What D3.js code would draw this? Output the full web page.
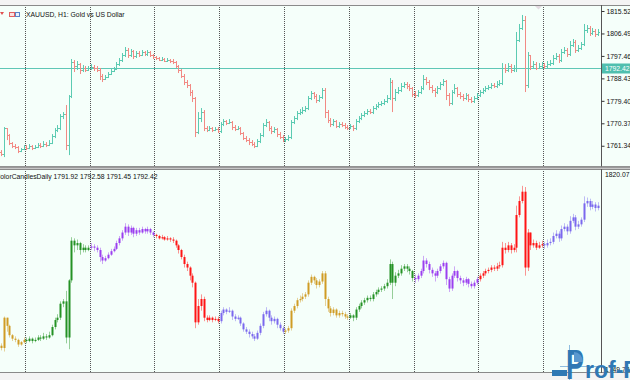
<!DOCTYPE html>
<html>
<head>
<meta charset="utf-8">
<script src="https://cdnjs.cloudflare.com/ajax/libs/d3/7.8.5/d3.min.js"></script>
<style>
body { margin:0; background:#f2f2f2; }
svg { display:block; font-family:"Liberation Sans", Arial, sans-serif; }
</style>
</head>
<body>
<div id="chart"></div>
<script>
var symbolTitle = "XAUUSD, H1:  Gold vs US Dollar";
var indicatorTitle = "ColorCandlesDaily 1791.92 1792.58 1791.45 1792.42";
var bidPrice = 1792.42;
var firstOpen = 1758.80;
var barsPerDay = [9, 23, 23, 23, 23, 23, 23, 23, 23, 20];
var dayColors = ["#d09c24", "#249224", "#9b3ff0", "#ff1414", "#7b68ee", "#d09c24", "#249224", "#9b3ff0", "#ff1414", "#7b68ee"];
var priceTicks = [1815.52, 1806.49, 1797.46, 1788.43, 1779.40, 1770.37, 1761.34];
var indicatorTicks = [1820.07, 1749.73];

// hourly closes, one line per day
var closes = [
 1758.00, 1768.46, 1765.64, 1762.42, 1761.22, 1760.81, 1759.20, 1760.01, 1760.81,
 1760.41, 1761.22, 1760.41, 1760.81, 1761.62, 1761.22, 1762.02, 1761.62, 1762.42, 1765.24, 1767.65, 1768.46, 1773.28, 1774.09, 1761.62, 1781.33, 1795.01, 1793.40, 1794.20, 1791.79, 1792.59, 1791.79, 1792.59,
 1793.00, 1792.59, 1791.79, 1789.37, 1788.17, 1788.97, 1790.18, 1791.39, 1792.19, 1794.20, 1795.81, 1797.82, 1799.84, 1797.82, 1799.43, 1797.42, 1798.63, 1797.82, 1799.03, 1798.23, 1799.03, 1797.82, 1797.02,
 1796.62, 1795.81, 1796.21, 1795.41, 1795.81, 1795.41, 1795.01, 1793.40, 1791.79, 1789.37, 1786.96, 1785.75, 1782.94, 1780.52, 1766.85, 1772.48, 1774.89, 1768.46, 1767.65, 1768.46, 1767.65, 1768.05, 1767.25,
 1770.07, 1771.27, 1770.47, 1770.87, 1768.86, 1768.05, 1768.46, 1766.45, 1764.43, 1763.63, 1762.82, 1762.02, 1761.22, 1763.23, 1765.64, 1769.66, 1770.87, 1768.46, 1767.25, 1768.05, 1766.04, 1764.84, 1763.63,
 1764.03, 1764.84, 1770.87, 1772.48, 1774.49, 1774.89, 1775.70, 1776.50, 1780.52, 1782.54, 1781.33, 1779.72, 1780.93, 1783.74, 1774.89, 1771.67, 1770.07, 1771.27, 1769.26, 1770.07, 1769.66, 1768.86, 1768.46,
 1769.26, 1768.46, 1771.27, 1772.48, 1773.69, 1774.49, 1775.30, 1774.89, 1776.50, 1777.31, 1778.11, 1778.51, 1779.32, 1780.52, 1786.96, 1780.52, 1782.94, 1783.74, 1785.35, 1786.16, 1785.35, 1784.55, 1782.13,
 1781.73, 1782.94, 1784.55, 1788.17, 1786.96, 1784.95, 1783.74, 1782.94, 1784.55, 1786.16, 1787.36, 1781.73, 1778.51, 1782.94, 1784.55, 1782.13, 1781.33, 1780.52, 1781.73, 1780.12, 1779.32, 1780.52, 1781.73,
 1782.94, 1783.74, 1784.55, 1784.95, 1785.75, 1785.35, 1786.16, 1786.56, 1792.59, 1791.79, 1793.40, 1791.79, 1792.59, 1803.86, 1808.69, 1811.90, 1785.75, 1797.82, 1793.40, 1794.20, 1792.59, 1793.40, 1793.80,
 1793.40, 1794.20, 1794.60, 1796.62, 1797.42, 1795.81, 1799.03, 1799.84, 1798.23, 1801.85, 1803.05, 1799.84, 1800.64, 1802.25, 1807.88, 1808.69, 1806.67, 1807.48, 1806.27, 1807.08
];
var highs = [
 1759.61, 1768.86, 1768.46, 1766.04, 1762.82, 1762.02, 1761.22, 1760.41, 1761.62,
 1761.62, 1762.02, 1761.62, 1761.62, 1762.42, 1762.42, 1763.23, 1762.82, 1763.63, 1766.04, 1768.46, 1769.66, 1774.09, 1774.89, 1777.71, 1781.73, 1796.21, 1795.81, 1795.41, 1794.60, 1793.80, 1793.40, 1793.40,
 1794.20, 1793.80, 1793.40, 1792.59, 1790.18, 1789.78, 1790.98, 1792.19, 1793.00, 1795.01, 1796.62, 1798.63, 1801.04, 1800.64, 1800.24, 1799.84, 1799.43, 1799.43, 1799.84, 1799.43, 1799.84, 1799.43, 1798.23,
 1797.42, 1797.02, 1797.02, 1796.62, 1796.62, 1796.21, 1796.21, 1795.41, 1793.80, 1792.19, 1790.18, 1787.77, 1786.16, 1783.74, 1780.93, 1774.89, 1776.50, 1775.70, 1769.26, 1769.26, 1768.86, 1768.86, 1768.86,
 1770.87, 1772.08, 1771.67, 1772.08, 1771.27, 1769.66, 1769.26, 1768.86, 1766.85, 1765.24, 1764.43, 1763.63, 1762.82, 1764.03, 1766.45, 1770.47, 1772.08, 1771.27, 1769.26, 1768.86, 1768.46, 1766.85, 1765.64,
 1764.84, 1765.64, 1771.67, 1773.28, 1775.30, 1776.10, 1776.90, 1777.31, 1781.33, 1783.34, 1782.94, 1782.13, 1781.73, 1784.55, 1784.55, 1775.70, 1772.48, 1772.08, 1771.67, 1770.87, 1770.87, 1770.47, 1769.66,
 1770.07, 1769.66, 1772.08, 1773.28, 1774.49, 1775.30, 1776.10, 1776.10, 1777.31, 1778.11, 1778.92, 1779.32, 1780.12, 1781.73, 1788.57, 1787.77, 1784.14, 1784.95, 1786.56, 1786.96, 1786.96, 1786.16, 1784.95,
 1783.34, 1783.74, 1785.35, 1789.78, 1788.97, 1787.77, 1785.75, 1784.55, 1785.35, 1786.96, 1788.17, 1787.77, 1782.54, 1783.74, 1786.16, 1784.95, 1782.94, 1782.13, 1782.54, 1782.13, 1780.93, 1781.33, 1782.54,
 1783.74, 1784.55, 1785.35, 1785.75, 1786.56, 1786.56, 1787.36, 1787.77, 1794.60, 1794.20, 1794.60, 1794.20, 1793.80, 1807.08, 1810.30, 1813.92, 1813.51, 1799.03, 1797.82, 1795.41, 1795.01, 1794.60, 1795.01,
 1794.60, 1795.41, 1795.81, 1797.82, 1798.63, 1798.23, 1800.24, 1801.04, 1800.64, 1803.46, 1804.26, 1803.86, 1801.85, 1803.05, 1810.30, 1809.89, 1809.49, 1808.69, 1808.28, 1808.28
];
var lows = [
 1757.19, 1756.79, 1763.63, 1761.62, 1760.41, 1760.01, 1758.40, 1758.80, 1759.61,
 1759.61, 1760.01, 1759.61, 1760.01, 1760.41, 1760.41, 1760.81, 1760.81, 1761.22, 1762.02, 1764.43, 1766.85, 1767.65, 1772.08, 1759.61, 1757.59, 1780.52, 1790.98, 1791.79, 1790.18, 1790.98, 1790.98, 1791.39,
 1791.79, 1791.39, 1790.98, 1787.77, 1786.96, 1787.77, 1788.57, 1789.78, 1790.98, 1791.79, 1793.40, 1795.01, 1797.02, 1796.62, 1797.02, 1796.21, 1796.62, 1797.02, 1797.42, 1797.42, 1797.42, 1797.02, 1796.21,
 1795.81, 1795.41, 1795.41, 1795.01, 1795.01, 1794.60, 1794.20, 1792.59, 1790.58, 1788.57, 1785.75, 1784.55, 1781.33, 1778.92, 1764.84, 1766.04, 1770.87, 1767.25, 1766.85, 1767.25, 1766.85, 1767.25, 1766.45,
 1766.45, 1769.26, 1769.66, 1770.07, 1767.65, 1767.25, 1767.65, 1765.64, 1763.63, 1762.82, 1761.62, 1761.22, 1760.41, 1760.81, 1762.42, 1764.84, 1768.86, 1767.25, 1766.04, 1766.45, 1764.84, 1764.03, 1762.82,
 1762.82, 1763.23, 1764.03, 1770.07, 1771.67, 1773.69, 1774.09, 1774.89, 1775.70, 1779.72, 1780.12, 1778.51, 1778.92, 1780.12, 1772.48, 1770.47, 1768.86, 1769.26, 1768.46, 1768.46, 1768.86, 1768.05, 1767.65,
 1768.05, 1767.25, 1767.65, 1770.47, 1771.67, 1772.88, 1773.69, 1774.09, 1774.09, 1775.70, 1776.50, 1777.31, 1777.71, 1778.51, 1779.72, 1774.89, 1779.32, 1782.13, 1782.94, 1784.55, 1784.14, 1783.34, 1780.93,
 1780.52, 1780.93, 1782.13, 1783.74, 1785.75, 1783.74, 1782.54, 1780.93, 1782.13, 1783.74, 1785.35, 1779.72, 1777.31, 1777.71, 1782.13, 1780.93, 1780.12, 1779.32, 1779.72, 1778.92, 1778.51, 1778.51, 1779.72,
 1780.93, 1782.13, 1782.94, 1783.74, 1784.14, 1784.55, 1784.55, 1785.35, 1785.75, 1790.58, 1790.98, 1790.58, 1790.98, 1790.98, 1803.05, 1807.88, 1782.94, 1784.55, 1791.79, 1792.59, 1791.79, 1792.19, 1792.59,
 1792.19, 1792.59, 1793.40, 1793.80, 1795.81, 1794.60, 1795.01, 1798.23, 1797.02, 1797.42, 1801.04, 1798.63, 1799.03, 1799.84, 1801.44, 1806.67, 1805.47, 1805.87, 1805.07, 1805.47
];

var width = 630, height = 380;
var plotRight = 601;
var topPane = {top:5, bottom:167};
var subPane = {top:169, bottom:373};
var upColor = "#5ccbb2", downColor = "#f28a84";

// open of each hour = previous close
var opens = closes.map(function(c, i){ return i ? closes[i-1] : firstOpen; });
var dayOf = [];
barsPerDay.forEach(function(n, d){ for (var k = 0; k < n; k++) dayOf.push(d); });
var dayStarts = [];
barsPerDay.reduce(function(acc, n){ dayStarts.push(acc); return acc + n; }, 0);

var xScale = d3.scaleLinear().domain([0, closes.length - 1]).range([1, 598]);
var yTop = d3.scaleLinear().domain([1752.8, 1817.93]).range([topPane.bottom, topPane.top]);
var ySub = d3.scaleLinear().domain([1749.73, 1820.07]).range([372, 168]);

var svg = d3.select("#chart").append("svg").attr("width", width).attr("height", height);

svg.append("rect").attr("width", width).attr("height", height).attr("fill", "#f4f4f4");
[topPane, subPane].forEach(function(p){
	svg.append("rect").attr("x", 0).attr("y", p.top).attr("width", width).attr("height", p.bottom - p.top)
		.attr("fill", "#f5fffa");
});

svg.append("defs").append("clipPath").attr("id", "plotclip")
	.append("rect").attr("x", 0).attr("y", 0).attr("width", plotRight).attr("height", height);

// period separators (start of each day)
var sep = svg.append("g");
dayStarts.slice(1).forEach(function(s){
	var x = Math.round(xScale(s - 0.5)) + 0.5;
	[topPane, subPane].forEach(function(p){
		sep.append("line").attr("x1", x).attr("x2", x).attr("y1", p.top).attr("y2", p.bottom)
			.attr("stroke", "#555").attr("stroke-dasharray", "1,1");
	});
});

// bid line
var bidY = Math.round(yTop(bidPrice)) + 0.5;
svg.append("line").attr("x1", 0).attr("x2", plotRight).attr("y1", bidY).attr("y2", bidY)
	.attr("stroke", "#5fc7b6").attr("stroke-width", 1);

// top pane: OHLC bars
var barLayer = svg.append("g").attr("clip-path", "url(#plotclip)");
closes.forEach(function(c, i){
	var x = Math.round(xScale(i));
	var col = c >= opens[i] ? upColor : downColor;
	var yh = yTop(highs[i]), yl = yTop(lows[i]);
	barLayer.append("rect").attr("x", x).attr("y", yh).attr("width", 1).attr("height", Math.max(1, yl - yh))
		.attr("fill", col);
	barLayer.append("rect").attr("x", x - 1).attr("y", Math.round(yTop(opens[i]))).attr("width", 1).attr("height", 1)
		.attr("fill", col);
	barLayer.append("rect").attr("x", x + 1).attr("y", Math.round(yTop(c))).attr("width", 1).attr("height", 1)
		.attr("fill", col);
});

// bottom pane: candles coloured by day
var candleLayer = svg.append("g").attr("clip-path", "url(#plotclip)");
closes.forEach(function(c, i){
	var x = Math.round(xScale(i));
	var col = dayColors[dayOf[i]];
	var yh = ySub(highs[i]), yl = ySub(lows[i]);
	var yo = ySub(opens[i]), yc = ySub(c);
	candleLayer.append("rect").attr("x", x).attr("y", yh).attr("width", 1).attr("height", yl - yh)
		.attr("fill", col).attr("opacity", 0.45);
	candleLayer.append("rect").attr("x", x - 0.5).attr("y", Math.min(yo, yc)).attr("width", 2)
		.attr("height", Math.max(1, Math.abs(yo - yc))).attr("fill", col);
});

// pane borders
[topPane, subPane].forEach(function(p){
	svg.append("line").attr("x1", 0).attr("x2", width).attr("y1", p.top + 0.5).attr("y2", p.top + 0.5).attr("stroke", "#8a8a8a");
	svg.append("line").attr("x1", 0).attr("x2", width).attr("y1", p.bottom - 0.5).attr("y2", p.bottom - 0.5).attr("stroke", "#8a8a8a");
	svg.append("line").attr("x1", plotRight + 0.5).attr("x2", plotRight + 0.5).attr("y1", p.top).attr("y2", p.bottom).attr("stroke", "#555");
});
svg.append("rect").attr("x", 0).attr("y", topPane.bottom - 0.5).attr("width", width).attr("height", 2).attr("fill", "#9a9a9a");

// price axis
var axisTop = d3.axisRight(yTop).tickValues(priceTicks).tickSize(3).tickPadding(2)
	.tickFormat(d3.format(".2f"));
var gTop = svg.append("g").attr("transform", "translate(" + (plotRight + 0.5) + ",0)").call(axisTop);
gTop.select(".domain").remove();
gTop.selectAll("text").attr("font-size", "6.8px").attr("fill", "#111").attr("font-family", "Liberation Sans, Arial, sans-serif");
gTop.selectAll("line").attr("stroke", "#333");

var gSub = svg.append("g").attr("font-size", "6.8px").attr("fill", "#111");
gSub.append("text").attr("x", 605).attr("y", 177).text(indicatorTicks[0].toFixed(2));
gSub.append("text").attr("x", 605).attr("y", 372).text(indicatorTicks[1].toFixed(2));

// bid label
svg.append("rect").attr("x", plotRight + 1).attr("y", bidY - 5).attr("width", width - plotRight).attr("height", 10)
	.attr("fill", "#4fbfae");
svg.append("text").attr("x", 605).attr("y", bidY + 2.5).attr("font-size", "6.8px").attr("fill", "#fff")
	.text(bidPrice.toFixed(2));

// shift marker
svg.append("path").attr("d", "M535,6 L542,6 L538.5,9.5 Z").attr("fill", "#e4dbe2");

// titles
svg.append("path").attr("d", "M0,12 L4,12 L2,15 Z").attr("fill", "#e05050");
svg.append("rect").attr("x", 9.5).attr("y", 12.5).attr("width", 5).attr("height", 4).attr("fill", "#fbe0e0").attr("stroke", "#e06060");
svg.append("rect").attr("x", 15.5).attr("y", 12.5).attr("width", 4).attr("height", 4).attr("fill", "#e8f0fb").attr("stroke", "#5a84c8");
svg.append("text").attr("x", 26).attr("y", 17).attr("font-size", "6.8px").attr("fill", "#111").text(symbolTitle);
svg.append("text").attr("x", -4.6).attr("y", 179).attr("font-size", "6.8px").attr("fill", "#111").text(indicatorTitle);

// watermark
var logo = svg.append("g");
logo.append("line").attr("x1", 569.5).attr("x2", 569.5).attr("y1", 345).attr("y2", 380).attr("stroke", "#8fbde0");
logo.append("line").attr("x1", 560).attr("x2", 600).attr("y1", 366.5).attr("y2", 366.5).attr("stroke", "#8fbde0");
logo.append("rect").attr("x", 552).attr("y", 370).attr("width", 15).attr("height", 6).attr("fill", "#2f78b4");
logo.append("text").attr("transform", "translate(566,379) scale(0.64,1)").attr("font-size", "42px").attr("font-weight", "bold")
	.attr("fill", "#2f78b4").text("P");
logo.append("path").attr("d", "M574,352 L574,362 L583,362 A9,10 0 0 0 574,352 Z").attr("fill", "#5a98cf");
logo.append("text").attr("x", 585).attr("y", 378).attr("font-size", "23px").attr("font-weight", "bold")
	.attr("fill", "#2f78b4").text("rof-FX");
</script>
</body>
</html>
